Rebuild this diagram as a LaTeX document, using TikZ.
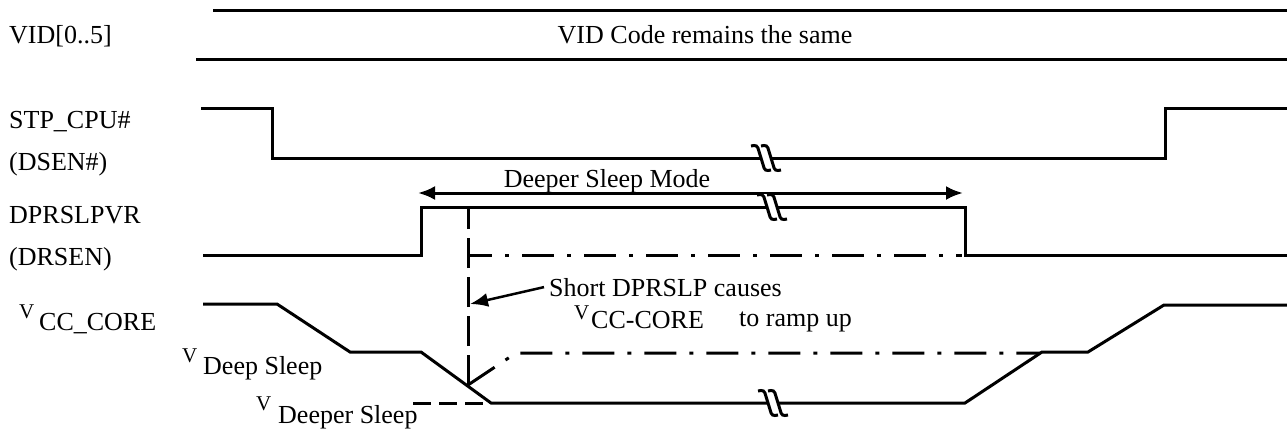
\documentclass[tikz,border=0pt]{standalone}
\usepackage{fontspec}
\setmainfont{Liberation Serif}
\usetikzlibrary{arrows.meta}

\begin{document}
\begin{tikzpicture}[x=1pt, y=-1pt, font=\fontsize{26}{30}\selectfont,
    sig/.style={line width=3pt},
    dashdot/.style={line width=3pt, dash pattern=on 32pt off 13pt on 4pt off 13pt},
    lbl/.style={anchor=base west, inner sep=0pt},
    vsym/.style={font=\fontsize{21}{24}\selectfont},
    sbreak/.pic={
      \fill[white] (-9,-13) -- (1,-13) -- (9,13) -- (-1,13) -- cycle;
      \draw[line width=3pt, rounded corners=3pt] (-15,-12) -- (-9,-13) -- (-1,13) -- (5,12);
      \draw[line width=3pt, rounded corners=3pt] (-5,-12) -- (1,-13) -- (9,13) -- (15,12);
    }]
  \useasboundingbox (0,0) rectangle (1287,429);

  \node[lbl] (vid) at (9,43) {VID[0..5]};
  \node[lbl] (stp) at (9,128) {STP\_CPU\#};
  \node[lbl] (dsen) at (9,170) {(DSEN\#)};
  \node[lbl] (dpr) at (9,223) {DPRSLPVR};
  \node[lbl] (drsen) at (9,265) {(DRSEN)};
  \node[lbl, vsym] (vcc) at (19,318) {V};
  \node[lbl] (vccsub) at (39,330) {CC\_CORE};
  \node[lbl, vsym] (vdeep) at (182,362) {V};
  \node[lbl] (vdeepsub) at (203,374) {Deep Sleep};
  \node[lbl, vsym] (vdeeper) at (256,410) {V};
  \node[lbl] (vdeepersub) at (278,423) {Deeper Sleep};

  \draw[sig] (213,10) -- (1287,10);
  \draw[sig] (196,59) -- (1287,59);
  \node[anchor=base, inner sep=0pt] (vidcode) at (705,43) {VID Code remains the same};

  \draw[sig] (201,108) -- (272,108) -- (272,158) -- (1165,158) -- (1165,108) -- (1287,108);
  \pic at (766,158) {sbreak};

  \node[anchor=base, inner sep=0pt] (mode) at (607,187) {Deeper Sleep Mode};
  \coordinate (ml) at (418,193);
  \coordinate (mr) at (963,193);
  \draw[line width=3pt, {Latex[length=17pt,width=14pt]}-{Latex[length=17pt,width=14pt]}] (ml) -- (mr);

  \draw[sig] (203,255) -- (421,255) -- (421,207) -- (965,207) -- (965,255) -- (1287,255);
  \pic at (772,207) {sbreak};
  \draw[line width=3pt, dash pattern=on 30pt off 9pt] (468,385) -- (468,209);
  \draw[dashdot, dash phase=8pt] (468,255) -- (962,255);

  \draw[sig] (203,304) -- (277,304) -- (350,352) -- (421,352) -- (491,403) -- (965,403)
    -- (1042,352) -- (1088,352) -- (1164,305) -- (1287,305);
  \pic at (773,403) {sbreak};
  \draw[line width=3pt, dash pattern=on 18pt off 8pt] (413,403) -- (485,403);
  \draw[dashdot] (468,385) -- (516,353) -- (1040,353);

  \node[lbl] (short) at (549,296) {Short DPRSLP causes};
  \node[lbl, vsym] (vcc2) at (574,319) {V};
  \node[lbl] (vcc2sub) at (591,328) {CC-CORE};
  \node[lbl] (ramp) at (739,326) {to ramp up};
  \coordinate (hit) at (470,304);
  \draw[line width=2.5pt, -{Latex[length=18pt,width=14pt]}] ([xshift=-5pt]short.west) -- (hit);
\end{tikzpicture}
\end{document}
